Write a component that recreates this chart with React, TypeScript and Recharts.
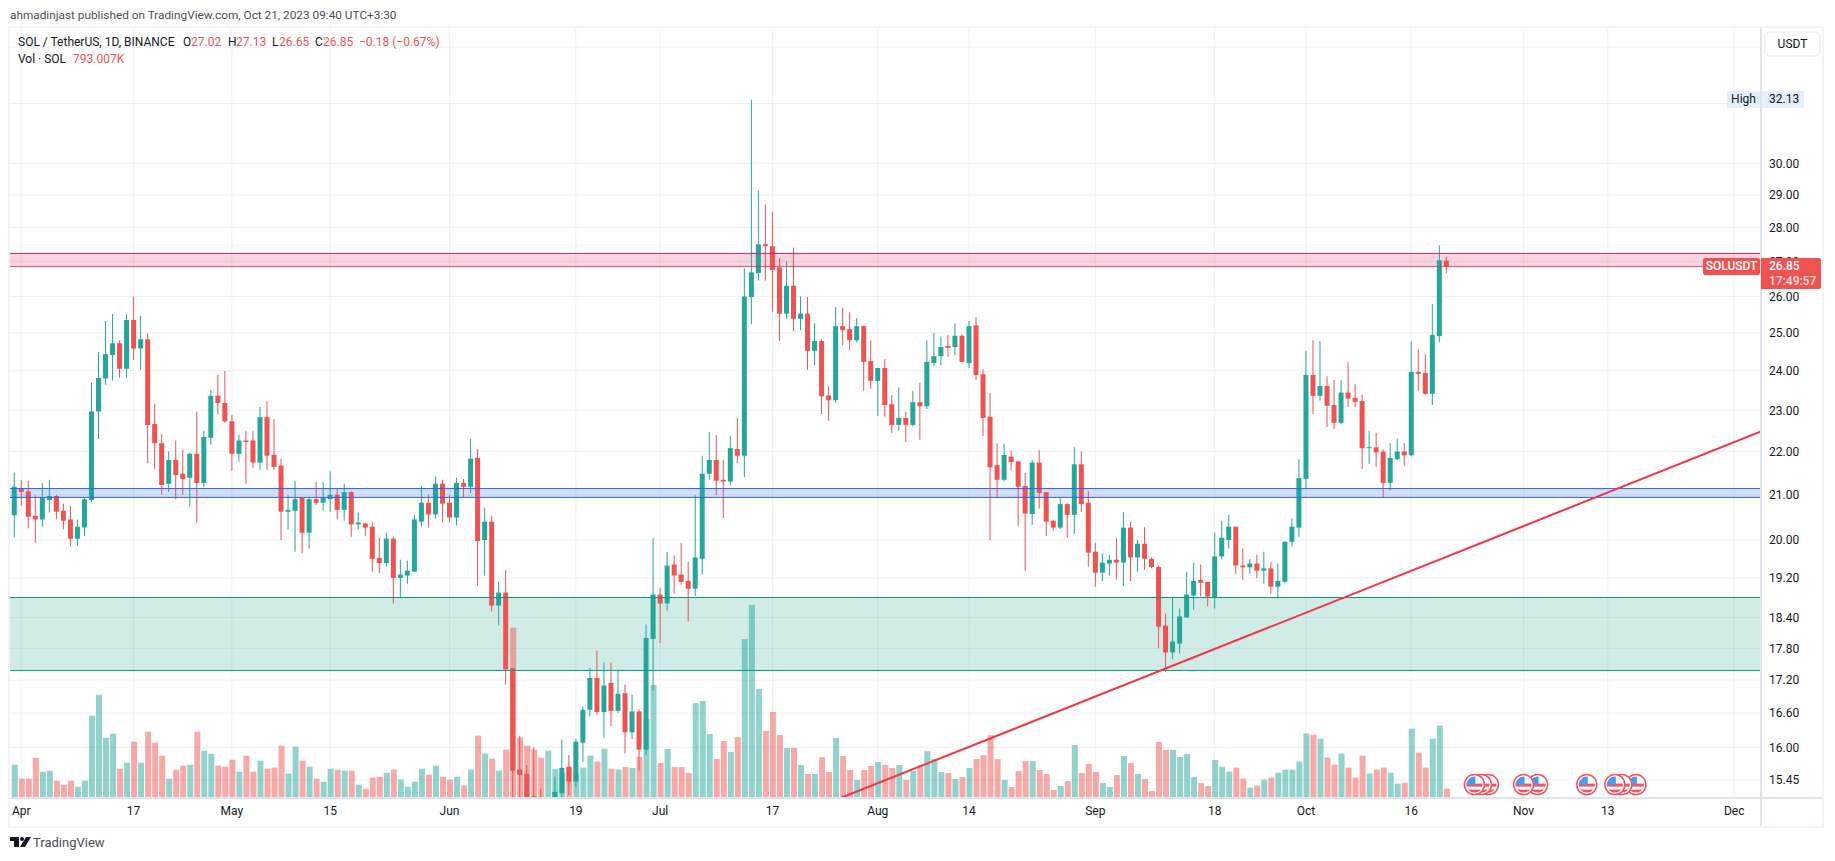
import React from 'react';
import { ComposedChart, Bar, Cell, Scatter, XAxis, YAxis, CartesianGrid, ReferenceArea, ReferenceLine } from 'recharts';

const FIRST_DAY = -1; // 31 Mar 2023; day 0 is 1 Apr 2023

const open = [20.54,21.15,21.08,20.53,20.45,20.88,20.97,20.64,20.45,20.03,20.27,20.88,22.97,23.8,24.41,24.72,24.05,25.35,24.58,24.83,22.66,22.2,21.25,21.8,21.48,21.39,21.95,21.27,22.33,23.36,23.18,22.73,21.95,22.26,22.26,21.74,22.83,21.92,21.67,20.62,20.64,20.93,20.16,20.9,20.82,20.9,21.0,20.66,21.06,20.34,20.36,20.29,19.62,19.51,20.03,19.2,19.25,19.33,20.4,20.82,20.56,21.25,20.82,20.49,21.27,21.18,21.85,20.0,20.4,18.64,18.9,17.42,15.62,15.55,15.18,14.8,14.6,14.9,15.23,15.67,15.42,16.08,16.66,17.24,16.62,17.15,16.64,
16.96,16.26,16.63,15.96,17.98,18.86,18.68,19.48,19.27,19.14,18.98,19.6,21.48,21.8,21.34,21.3,22.06,21.9,25.98,26.66,27.5,27.44,26.82,25.52,26.3,25.38,25.52,24.52,24.78,23.37,23.25,25.18,25.1,24.8,25.18,24.25,23.74,24.07,23.15,22.64,22.81,22.64,23.2,23.1,24.2,24.38,24.65,24.62,24.92,24.2,25.2,23.91,22.84,21.68,21.34,21.88,21.77,21.2,20.57,21.74,21.06,20.42,20.27,20.79,20.55,21.7,20.82,19.75,19.31,19.5,19.58,19.52,20.27,19.63,19.92,19.6,19.43,18.24,17.72,17.89,18.4,18.84,19.16,19.12,18.81,
19.65,20.0,20.29,19.46,19.42,19.5,19.35,19.4,19.02,19.12,19.96,20.27,21.36,23.89,23.36,23.61,23.13,22.69,23.44,23.31,23.23,22.08,22.1,22.0,21.27,21.82,22.0,21.91,23.97,23.94,23.41,24.91,27.02];
const high = [21.51,21.34,21.32,20.99,21.27,21.34,21.0,20.8,20.75,20.45,20.93,23.69,24.49,25.32,25.51,24.8,25.51,26.0,25.46,24.99,23.16,22.42,22.0,22.26,22.04,21.97,22.97,22.5,23.51,23.89,23.99,22.88,22.4,22.5,22.5,23.08,23.22,22.78,21.83,21.0,21.32,20.93,20.93,21.29,21.29,21.53,21.13,21.25,21.08,20.6,20.38,20.4,20.05,20.16,20.07,19.58,19.56,20.56,21.2,21.0,21.41,21.34,21.0,21.39,21.36,22.3,22.06,20.71,20.53,19.12,19.36,17.42,16.2,15.7,16.0,15.3,15.1,15.5,16.13,15.87,16.15,16.72,17.43,17.76,17.53,17.53,17.4,
17.12,16.93,16.67,18.26,20.04,19.0,19.75,19.67,19.94,19.54,20.99,21.9,22.47,22.39,21.8,22.37,22.8,26.8,32.13,29.13,28.7,28.48,27.09,27.0,27.4,26.0,25.98,25.26,24.83,23.6,25.7,25.68,25.56,25.4,25.2,24.8,24.07,24.3,23.38,23.57,22.96,23.49,23.69,24.8,25.0,24.9,24.94,25.26,24.97,25.32,25.43,24.04,23.43,22.2,22.18,22.03,21.78,21.5,21.8,22.03,21.06,20.44,20.93,20.81,22.1,22.0,21.08,19.94,19.71,19.68,20.05,20.61,20.4,20.0,20.28,19.63,19.46,18.48,18.8,18.58,19.33,19.52,19.48,19.12,20.15,
20.42,20.55,20.29,19.82,19.59,19.69,19.75,19.54,19.5,19.98,20.47,21.82,24.52,24.8,24.78,23.86,23.76,23.76,24.22,23.66,23.39,22.5,22.45,22.05,22.2,22.31,22.2,24.77,24.56,24.43,25.79,27.47,27.13];
const low = [20.06,20.75,20.25,19.94,20.29,20.6,20.45,20.23,19.86,19.88,20.09,20.82,22.3,23.64,23.75,23.82,23.82,24.28,24.03,21.73,21.59,21.0,21.06,20.9,21.0,20.73,20.38,21.18,22.16,22.9,22.69,21.55,21.76,21.25,21.62,21.57,21.57,21.57,20.0,20.23,19.75,19.71,19.82,20.77,20.64,20.62,20.45,20.42,20.07,20.23,20.09,19.33,19.3,19.44,18.68,18.78,19.08,19.33,20.29,20.27,20.47,20.38,20.38,20.31,20.95,21.04,19.04,19.25,18.52,18.24,17.12,13.9,14.8,15.0,14.7,14.2,14.3,14.6,15.15,15.2,15.33,15.75,16.54,16.57,16.16,16.37,16.6,
15.89,16.14,15.6,15.87,17.0,17.9,18.54,18.87,19.06,18.32,18.83,19.27,21.34,20.99,20.48,21.21,21.73,21.4,25.23,26.45,26.45,25.56,24.78,25.38,25.05,25.07,24.02,24.14,22.91,22.74,23.18,24.67,24.54,24.75,23.49,23.54,22.86,22.84,22.44,22.5,22.23,22.6,22.28,23.03,24.12,24.14,24.36,24.41,24.23,24.07,23.76,22.37,20.0,20.92,21.3,21.55,20.31,19.35,20.33,20.69,20.09,20.2,20.24,20.05,20.13,20.62,19.44,19.02,19.14,19.25,19.17,19.04,19.14,19.33,19.37,19.4,17.8,17.35,17.59,17.7,18.4,18.56,18.82,18.62,18.58,
19.59,19.82,19.29,19.16,19.29,19.2,19.08,18.87,18.78,19.1,19.86,20.07,21.15,22.91,23.24,22.59,22.54,22.66,23.08,23.08,21.59,21.71,21.64,20.93,21.1,21.8,21.66,21.89,23.49,23.39,23.13,24.75,26.65];
const close = [21.18,21.06,20.51,20.45,20.94,20.97,20.62,20.42,20.03,20.29,20.9,22.97,23.81,24.43,24.72,24.05,25.35,24.58,24.83,22.64,22.2,21.22,21.8,21.45,21.36,21.95,21.27,22.35,23.36,23.18,22.73,21.95,22.26,22.23,21.74,22.83,21.9,21.64,20.62,20.66,20.9,20.16,20.9,20.82,20.93,21.0,20.66,21.06,20.34,20.38,20.27,19.6,19.51,20.03,19.2,19.27,19.35,20.45,20.82,20.56,21.25,20.8,20.49,21.27,21.18,21.83,19.98,20.4,18.64,18.9,17.4,15.6,15.53,15.16,14.9,14.5,14.9,15.25,15.65,15.42,16.1,16.66,17.24,16.62,17.1,16.64,16.95,
16.26,16.63,15.96,18.0,18.86,18.68,19.46,19.25,19.12,18.98,19.63,21.48,21.8,21.32,21.3,22.08,21.9,26.0,26.68,27.5,27.44,26.75,25.52,26.3,25.38,25.52,24.52,24.78,23.35,23.25,25.18,25.07,24.8,25.18,24.23,23.74,24.07,23.13,22.64,22.81,22.64,23.2,23.1,24.23,24.38,24.62,24.6,24.92,24.23,25.18,23.89,22.81,21.63,21.34,21.92,21.75,21.18,20.58,21.74,21.04,20.4,20.27,20.79,20.55,21.7,20.79,19.73,19.31,19.52,19.58,19.52,20.27,19.63,19.92,19.6,19.43,18.22,17.72,17.93,18.42,18.86,19.14,19.1,18.82,19.65,
20.05,20.29,19.46,19.42,19.5,19.35,19.4,19.02,19.14,19.96,20.29,21.38,23.89,23.36,23.61,23.11,22.69,23.44,23.29,23.21,22.08,22.1,21.98,21.27,21.85,22.0,21.91,23.97,23.92,23.41,24.94,27.03,26.85];
const volumeM = [2.83,1.64,1.64,3.43,2.24,2.32,1.47,1.13,1.47,.96,1.47,7.0,8.78,5.13,5.47,2.49,3.0,4.79,3.0,5.64,4.7,3.6,1.64,2.41,2.75,2.83,5.64,4.02,3.77,2.75,2.66,3.26,2.24,3.6,2.24,3.17,2.49,2.58,4.45,2.07,4.36,3.17,2.66,1.64,1.39,2.49,2.41,2.32,2.32,1.13,.79,1.73,1.81,2.15,2.41,1.56,.96,1.39,2.49,1.98,2.75,1.81,1.56,1.81,1.05,2.41,5.3,3.77,3.34,2.32,4.11,14.48,5.13,4.45,4.11,3.43,4.02,2.49,2.15,2.58,2.07,2.58,3.6,3.09,4.19,2.49,2.41,
2.63,2.55,3.48,6.71,9.6,2.97,4.16,2.63,2.63,2.12,8.07,8.24,5.44,3.31,4.84,3.91,5.18,13.51,16.4,9.26,5.69,7.31,5.35,4.25,4.25,2.8,2.04,2.04,3.48,2.21,5.1,3.57,2.38,1.53,2.38,2.72,3.06,2.8,2.55,2.8,1.53,2.29,2.8,3.99,3.31,2.21,2.12,1.61,1.78,2.55,3.31,3.65,5.35,3.31,1.53,.93,2.29,3.14,3.14,2.38,2.04,.68,1.02,1.44,4.5,2.12,2.89,2.21,1.27,.93,1.95,3.57,2.97,2.04,1.61,.59,4.76,4.08,4.08,3.48,3.74,1.78,1.27,1.02,3.23,
2.66,2.24,2.58,1.64,.88,1.05,1.56,1.73,2.15,2.41,2.41,3.09,5.47,5.38,5.04,3.43,2.83,3.77,2.58,1.73,3.6,2.07,2.41,2.58,2.15,1.22,1.3,5.89,3.85,2.58,5.04,6.15,.793];

const xTickDays = [0,16,30,44,61,79,91,107,122,135,153,170,183,198,214,226,244];
const xTickLabels = ['Apr','17','May','15','Jun','19','Jul','17','Aug','14','Sep','18','Oct','16','Nov','13','Dec'];
const priceTicks = [34,32,30,29,28,27,26,25,24,23,22,21,20,19.2,18.4,17.8,17.2,16.6,16,15.45];
const hiddenPriceLabels = [34,32];
const flagDays = [230,228,227,223,216,214,209,208,207];
const FLAG_PRICE = 15.37;
const pinkZone = [26.85, 27.23];
const blueZone = [20.94, 21.14];
const greenZone = [17.38, 18.80];
const trendStart = { day: 116.7, price: 15.15 };
const trendEnd = { day: 247.82, price: 22.48 };
const lastClose = 26.85;

const X_DOMAIN = [-1.68, 247.82];
const PRICE_DOMAIN = [15.15, 34.73];
const VOLUME_DOMAIN = [0, 65.5];

const rows = open.map((o, i) => ({
  day: FIRST_DAY + i,
  wick: [low[i], high[i]],
  body: [Math.min(o, close[i]), Math.max(o, close[i])],
  volume: volumeM[i],
  up: close[i] >= o,
}));
const flags = flagDays.map((day) => ({ day, flag: FLAG_PRICE }));

const UP = '#26a69a';
const DOWN = '#ef5350';
const FONT = 'Roboto, sans-serif';
const TEXT = '#131722';

const FlagMark = (p: any) => {
  const { cx, cy } = p;
  const id = `flag-${p.payload?.day}`;
  return (
    <g>
      <clipPath id={id}><circle cx={cx} cy={cy} r={8} /></clipPath>
      <circle cx={cx} cy={cy} r={10} fill="#fff" stroke="#f7525f" strokeWidth={1.5} />
      <g clipPath={`url(#${id})`}>
        <rect x={cx - 9} y={cy - 9} width={18} height={18} fill="#fff" />
        <rect x={cx - 9} y={cy - 1} width={18} height={3} fill="#f7525f" />
        <rect x={cx - 9} y={cy + 5} width={18} height={4} fill="#f7525f" />
        <rect x={cx - 9} y={cy - 9} width={10} height={9} fill="#4a9bef" />
      </g>
    </g>
  );
};

const abs = (s: React.CSSProperties): React.CSSProperties => ({ position: 'absolute', ...s });
const txt = (left: number, top: number, s: string, color = TEXT, extra: React.CSSProperties = {}) => (
  <div style={abs({ left, top, color, whiteSpace: 'pre', fontFamily: FONT, fontSize: 12, lineHeight: '16px', ...extra })}>{s}</div>
);

export default function App() {
  return (
    <div style={abs({ left: 0, top: 0, width: 1835, height: 861, background: '#fff', overflow: 'hidden' })}>
      <ComposedChart width={1835} height={861} data={rows} margin={{ top: 27.5, left: 9.5, right: 0, bottom: 0 }} style={{ position: 'absolute', left: 0, top: 0 }}>
        <XAxis xAxisId="main" dataKey="day" type="number" domain={X_DOMAIN} allowDataOverflow ticks={xTickDays} interval={0} height={63}
          tickFormatter={(d: number) => xTickLabels[xTickDays.indexOf(d)]} axisLine={false} tickLine={false} tickMargin={2}
          tick={{ fontFamily: FONT, fontSize: 12, fill: TEXT }} />
        <XAxis xAxisId="wick" dataKey="day" type="number" domain={X_DOMAIN} allowDataOverflow hide height={0} />
        <XAxis xAxisId="body" dataKey="day" type="number" domain={X_DOMAIN} allowDataOverflow hide height={0} />
        <YAxis yAxisId="price" orientation="right" scale="log" domain={PRICE_DOMAIN} allowDataOverflow ticks={priceTicks} interval={0} width={74}
          tickFormatter={(v: number) => (hiddenPriceLabels.includes(v) ? '' : v.toFixed(2))} axisLine={false} tickLine={false}
          tick={{ fontFamily: FONT, fontSize: 12, fill: TEXT }} />
        <YAxis yAxisId="vol" orientation="right" domain={VOLUME_DOMAIN} hide width={0} />
        <CartesianGrid xAxisId="main" yAxisId="price" stroke="#f0f1f5" strokeWidth={1} />
        <Bar xAxisId="main" yAxisId="vol" dataKey="volume" barSize={6} isAnimationActive={false} fillOpacity={0.5}>
          {rows.map((r) => <Cell key={r.day} fill={r.up ? UP : DOWN} />)}
        </Bar>
        <Bar xAxisId="wick" yAxisId="price" dataKey="wick" barSize={1} isAnimationActive={false}>
          {rows.map((r) => <Cell key={r.day} fill={r.up ? UP : DOWN} />)}
        </Bar>
        <Bar xAxisId="body" yAxisId="price" dataKey="body" barSize={5} minPointSize={1} isAnimationActive={false}>
          {rows.map((r) => <Cell key={r.day} fill={r.up ? UP : DOWN} />)}
        </Bar>
        <ReferenceArea xAxisId="main" yAxisId="price" y1={pinkZone[0]} y2={pinkZone[1]} fill="#e91e63" fillOpacity={0.2} stroke="none" ifOverflow="hidden" />
        <ReferenceLine xAxisId="main" yAxisId="price" y={pinkZone[1]} stroke="#e91e63" strokeWidth={1} />
        <ReferenceLine xAxisId="main" yAxisId="price" y={pinkZone[0]} stroke="#e91e63" strokeWidth={1} strokeOpacity={0.75} />
        <ReferenceLine xAxisId="main" yAxisId="price" y={lastClose} stroke={DOWN} strokeWidth={1} strokeDasharray="1 2" />
        <ReferenceArea xAxisId="main" yAxisId="price" y1={blueZone[0]} y2={blueZone[1]} fill="#2962ff" fillOpacity={0.2} stroke="none" />
        <ReferenceLine xAxisId="main" yAxisId="price" y={blueZone[1]} stroke="#2962ff" strokeWidth={1} />
        <ReferenceLine xAxisId="main" yAxisId="price" y={blueZone[0]} stroke="#2962ff" strokeWidth={1} />
        <ReferenceArea xAxisId="main" yAxisId="price" y1={greenZone[0]} y2={greenZone[1]} fill="#089981" fillOpacity={0.19} stroke="none" />
        <ReferenceLine xAxisId="main" yAxisId="price" y={greenZone[1]} stroke="#089981" strokeWidth={1} />
        <ReferenceLine xAxisId="main" yAxisId="price" y={greenZone[0]} stroke="#089981" strokeWidth={1} />
        <ReferenceLine xAxisId="main" yAxisId="price" stroke="#f23645" strokeWidth={2} ifOverflow="hidden"
          segment={[{ x: trendStart.day, y: trendStart.price }, { x: trendEnd.day, y: trendEnd.price }]} />
        <Scatter xAxisId="main" yAxisId="price" data={flags} dataKey="flag" shape={FlagMark} isAnimationActive={false} />
      </ComposedChart>

      {/* chart frame */}
      <div style={abs({ left: 8, top: 26, width: 1816, height: 802, border: '2px solid #f0f3fa', boxSizing: 'border-box', pointerEvents: 'none' })} />
      <div style={abs({ left: 1760, top: 28, width: 2, height: 798, background: '#e0e3eb' })} />
      <div style={abs({ left: 10, top: 797, width: 1812, height: 2, background: '#e0e3eb' })} />

      {/* header */}
      {txt(10, 7, 'ahmadinjast published on TradingView.com, Oct 21, 2023 09:40 UTC+3:30', '#4a4e5c', { fontSize: 11.8 })}
      {txt(18, 34, 'SOL / TetherUS, 1D, BINANCE', TEXT, { fontSize: 12 })}
      {txt(183, 34, 'O', TEXT)}
      {txt(191, 34, '27.02', DOWN)}
      {txt(228, 34, 'H', TEXT)}
      {txt(236, 34, '27.13', DOWN)}
      {txt(272, 34, 'L', TEXT)}
      {txt(279, 34, '26.65', DOWN)}
      {txt(315, 34, 'C', TEXT)}
      {txt(323, 34, '26.85', DOWN)}
      {txt(359, 34, '\u22120.18 (\u22120.67%)', DOWN)}
      {txt(18, 51, 'Vol \u00b7 SOL', TEXT)}
      {txt(73, 51, '793.007K', DOWN)}

      {/* price scale decorations */}
      <div style={abs({ left: 1764, top: 31, width: 57, height: 26, border: '2px solid #f0f3fa', borderRadius: 6, boxSizing: 'border-box', background: '#fff', fontFamily: FONT, fontSize: 12, lineHeight: '22px', color: TEXT, textAlign: 'center' })}>USDT</div>
      <div style={abs({ left: 1727, top: 91, width: 33, height: 17, background: '#e3effd', fontFamily: FONT, fontSize: 12, lineHeight: '17px', color: TEXT, textAlign: 'center' })}>High</div>
      <div style={abs({ left: 1762, top: 91, width: 42, height: 17, background: '#e3effd', fontFamily: FONT, fontSize: 12, lineHeight: '17px', color: TEXT, paddingLeft: 7, boxSizing: 'border-box' })}>32.13</div>
      <div style={abs({ left: 1703, top: 258, width: 57, height: 17, background: DOWN, borderRadius: 2, fontFamily: FONT, fontSize: 12, fontWeight: 500, lineHeight: '17px', color: '#fff', textAlign: 'center' })}>SOLUSDT</div>
      <div style={abs({ left: 1761, top: 258, width: 60, height: 31, background: DOWN, borderRadius: '0 2px 2px 0', fontFamily: FONT, fontSize: 12, fontWeight: 500, lineHeight: '15px', color: '#fff', paddingLeft: 8, paddingTop: 1, boxSizing: 'border-box' })}>
        <div>26.85</div>
        <div style={{ opacity: 0.8 }}>17:49:57</div>
      </div>

      {/* footer */}
      <svg width="22" height="12" style={abs({ left: 10, top: 837 })}>
        <path d="M0 0H9V10H4V4H0Z M16 0H21L15 10H10Z" fill="#131722" />
        <circle cx="12" cy="2" r="2" fill="#131722" />
      </svg>
      {txt(33, 835, 'TradingView', '#4a4e5c', { fontSize: 13 })}
    </div>
  );
}
